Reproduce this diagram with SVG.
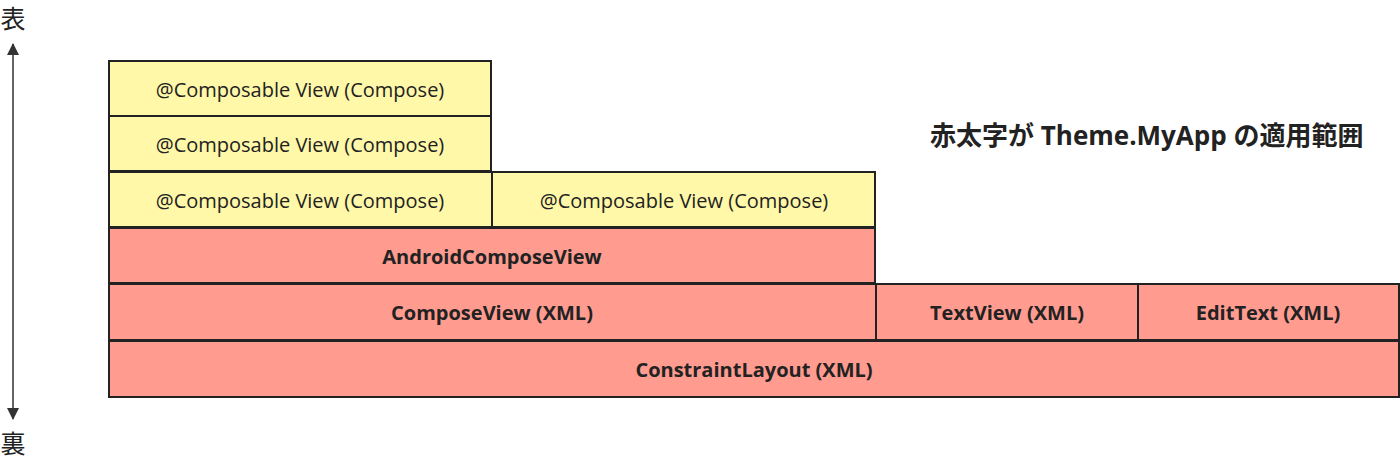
<svg xmlns="http://www.w3.org/2000/svg" width="1400" height="463" viewBox="0 0 1400 463">
<style>
.y{fill:#fff8a8;stroke:#222;stroke-width:2}
.r{fill:#ff9b8f;stroke:#222;stroke-width:2}
.t{font-family:"Open Sans","Noto Sans",sans-serif;font-size:20px;fill:#222;text-anchor:middle;dominant-baseline:central}
.b{font-weight:bold}
.k{font-family:"Noto Sans CJK JP",sans-serif;font-size:25px;fill:#222;text-anchor:middle}
</style>
<defs>
<marker id="ah" markerWidth="12" markerHeight="12" refX="11" refY="6" orient="auto-start-reverse" markerUnits="userSpaceOnUse">
<path d="M0,0 L12,6 L0,12 z" fill="#333"/>
</marker>
</defs>
<g id="connectors">
<line x1="13" y1="44" x2="13" y2="419" stroke="#333" stroke-width="1.5" marker-start="url(#ah)" marker-end="url(#ah)"/>
</g>
<text id="front" class="k" x="13" y="28">表</text>
<text id="back" class="k" x="13" y="453">裏</text>
<g id="n1"><rect class="y" x="109" y="61" width="382" height="55"/><text class="t" x="300" y="89">@Composable View (Compose)</text></g>
<g id="n2"><rect class="y" x="109" y="116" width="382" height="55"/><text class="t" x="300" y="144">@Composable View (Compose)</text></g>
<g id="n3"><rect class="y" x="109" y="172" width="383" height="55"/><text class="t" x="300" y="200">@Composable View (Compose)</text></g>
<g id="n4"><rect class="y" x="492" y="172" width="383" height="55"/><text class="t" x="684" y="200">@Composable View (Compose)</text></g>
<g id="n5"><rect class="r" x="109" y="228" width="766" height="55"/><text class="t b" x="492" y="256">AndroidComposeView</text></g>
<g id="n6"><rect class="r" x="109" y="284" width="767" height="56"/><text class="t b" x="492" y="312">ComposeView (XML)</text></g>
<g id="n7"><rect class="r" x="876" y="284" width="262" height="56"/><text class="t b" x="1007" y="312">TextView (XML)</text></g>
<g id="n8"><rect class="r" x="1138" y="284" width="261" height="56"/><text class="t b" x="1268" y="312">EditText (XML)</text></g>
<g id="n9"><rect class="r" x="109" y="341" width="1290" height="56"/><text class="t b" x="754" y="369">ConstraintLayout (XML)</text></g>
<text id="legend" x="930" y="145" font-family="'Open Sans','Noto Sans CJK JP',sans-serif" font-size="26" font-weight="bold" fill="#222">赤太字が Theme.MyApp の適用範囲</text>
</svg>
